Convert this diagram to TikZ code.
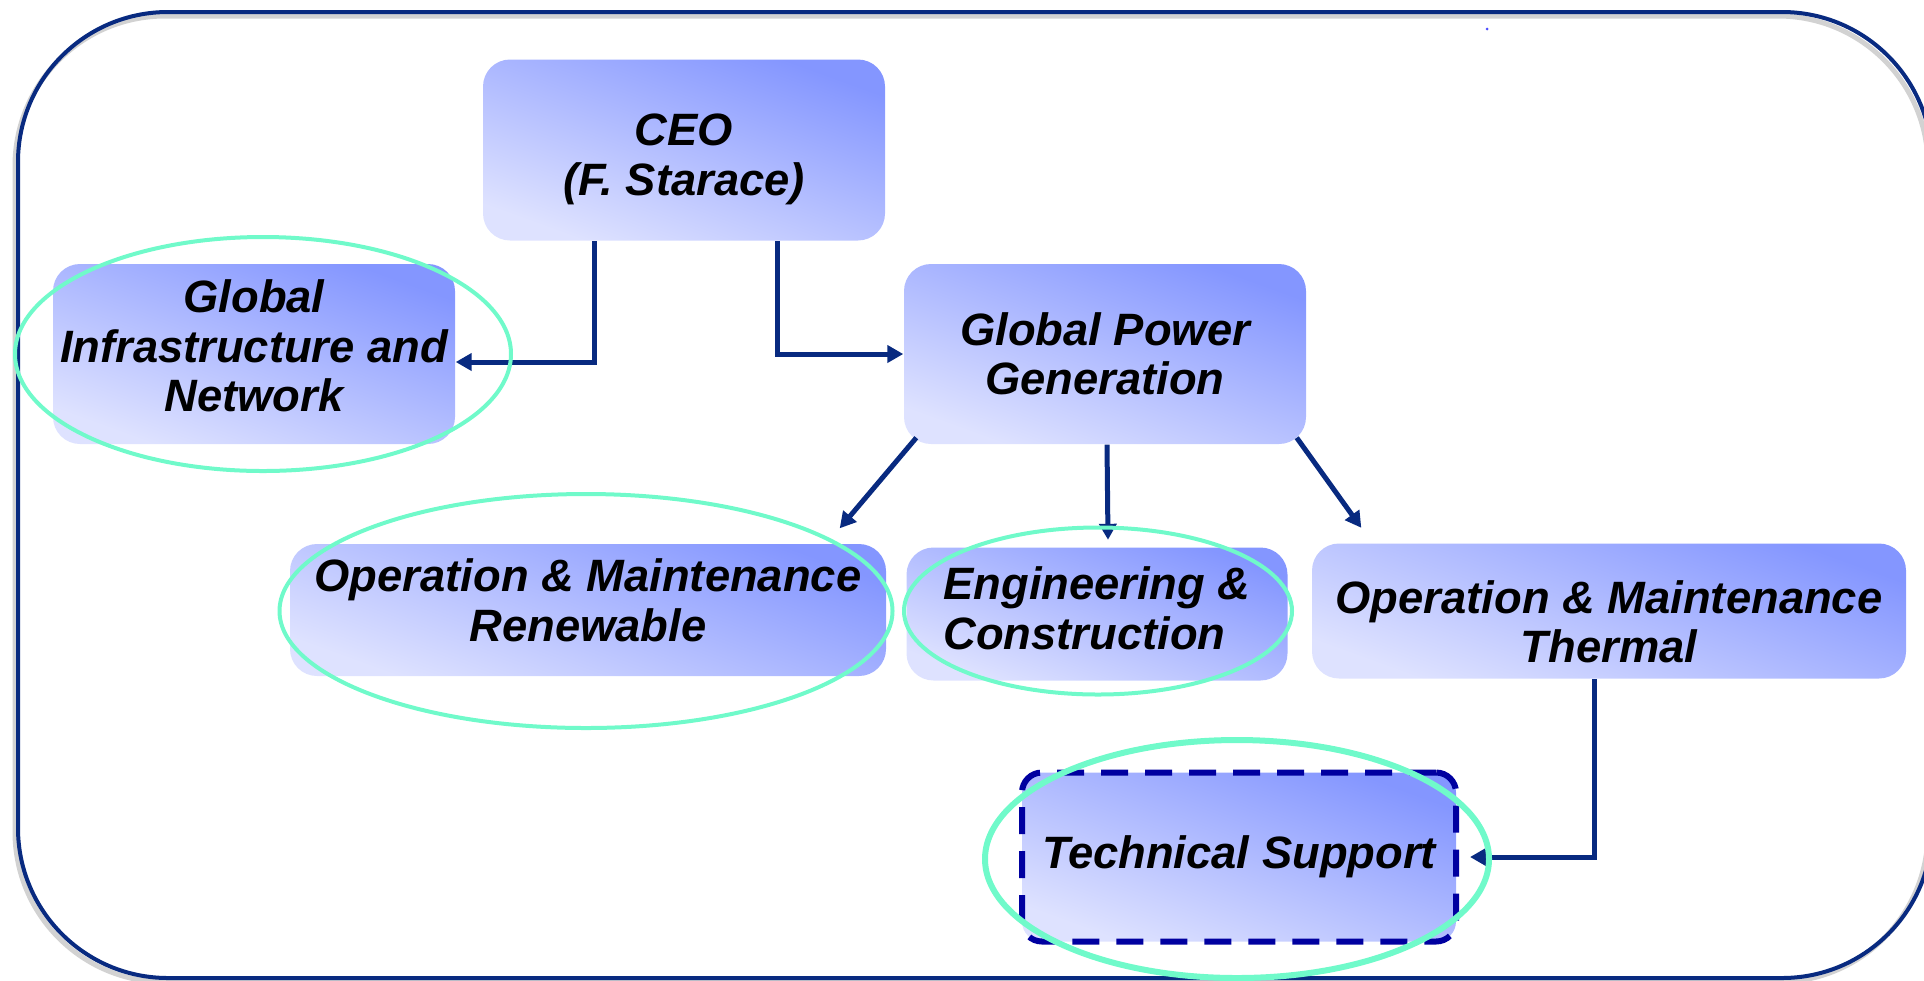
\documentclass[tikz,border=0pt]{standalone}
\usepackage{fontspec}
\setmainfont{Liberation Sans}
\usetikzlibrary{arrows.meta,shapes.geometric}

\definecolor{boxdark}{RGB}{132,150,255}
\definecolor{boxlight}{RGB}{222,226,255}
\definecolor{linknavy}{RGB}{8,42,128}
\definecolor{dashnavy}{RGB}{0,0,160}
\definecolor{ringgreen}{RGB}{112,250,202}

\tikzset{
  unit/.style={rounded corners=2.7mm, top color=boxdark, bottom color=boxlight,
    shading angle=-20, inner sep=0pt, align=center,
    font=\bfseries\itshape\fontsize{12.9}{14.1}\selectfont},
  ring/.style={ellipse, draw=ringgreen, line width=0.4mm, inner sep=0pt},
  link/.style={draw=linknavy, line width=0.5mm, -{Triangle[length=1.6mm,width=1.7mm]}},
}

\begin{document}
\begin{tikzpicture}[x=0.1mm,y=-0.1mm]

	\useasboundingbox (0,0) rectangle (1924,980);
	\clip (0,0) rectangle (1924,980);

	% frame
	\draw[gray!35,line width=0.5mm,rounded corners=15mm] (15,16) rectangle (1928,982);
	\draw[linknavy,line width=0.4mm,rounded corners=15mm] (18,12) rectangle (1932,978);
	\fill[blue!70] (1487,29) circle (0.15mm);

	% boxes
	\node[unit,minimum width=40.2mm,minimum height=18.1mm] (ceo) at (684,150) {\rule{0pt}{5mm}CEO\\(F. Starace)};
	\node[unit,minimum width=40.2mm,minimum height=18mm] (gi) at (254,354) {Global\\Infrastructure and\\Network\rule[-1.6mm]{0pt}{1.6mm}};
	\node[unit,minimum width=40.2mm,minimum height=18mm] (gpg) at (1105,354) {Global Power\\Generation};
	\node[unit,minimum width=59.6mm,minimum height=13.2mm] (omr) at (588,610) {Operation \& Maintenance\\Renewable\rule[-2mm]{0pt}{2mm}};
	\node[unit,minimum width=38.1mm,minimum height=13.3mm,align=left] (ec) at (1097,614) {Engineering \&\\Construction\rule[-1.2mm]{0pt}{1.2mm}};
	\node[unit,minimum width=59.4mm,minimum height=13.5mm] (omt) at (1609,611) {\rule{0pt}{5.4mm}Operation \& Maintenance\\Thermal};
	\node[unit,minimum width=43.4mm,minimum height=16.9mm,rounded corners=2mm,
	      draw=dashnavy,line width=0.6mm,dash pattern=on 2.7mm off 1.7mm] (ts) at (1239,857) {Technical Support};

	% links
	\draw[link] ([xshift=-9mm]ceo.south) |- ([yshift=-0.8mm]gi.east);
	\draw[link] ([xshift=9.3mm]ceo.south) |- (gpg.west);
	\draw[link] ([xshift=1.3mm,yshift=0.7mm]gpg.south west) -- ([xshift=-4.7mm,yshift=1.5mm]omr.north east);
	\draw[link] ([xshift=0.2mm]gpg.south) -- ([xshift=1.1mm,yshift=0.7mm]ec.north);
	\draw[link] ([xshift=-1mm,yshift=0.7mm]gpg.south east) -- ([xshift=5mm,yshift=1.5mm]omt.north west);
	\draw[link] ([xshift=-1.5mm]omt.south) |- ([xshift=1.1mm]ts.east);

	% highlights
	\node[ring,minimum width=49.6mm,minimum height=23.4mm] (giring) at (263,354) {};
	\node[ring,minimum width=61.3mm,minimum height=23.4mm] (omrring) at (586,611) {};
	\node[ring,minimum width=38.8mm,minimum height=16.7mm] (ecring) at (1098,611) {};
	\node[ring,line width=0.6mm,minimum width=50.4mm,minimum height=23.8mm] (tsring) at (1237,859) {};

\end{tikzpicture}
\end{document}
